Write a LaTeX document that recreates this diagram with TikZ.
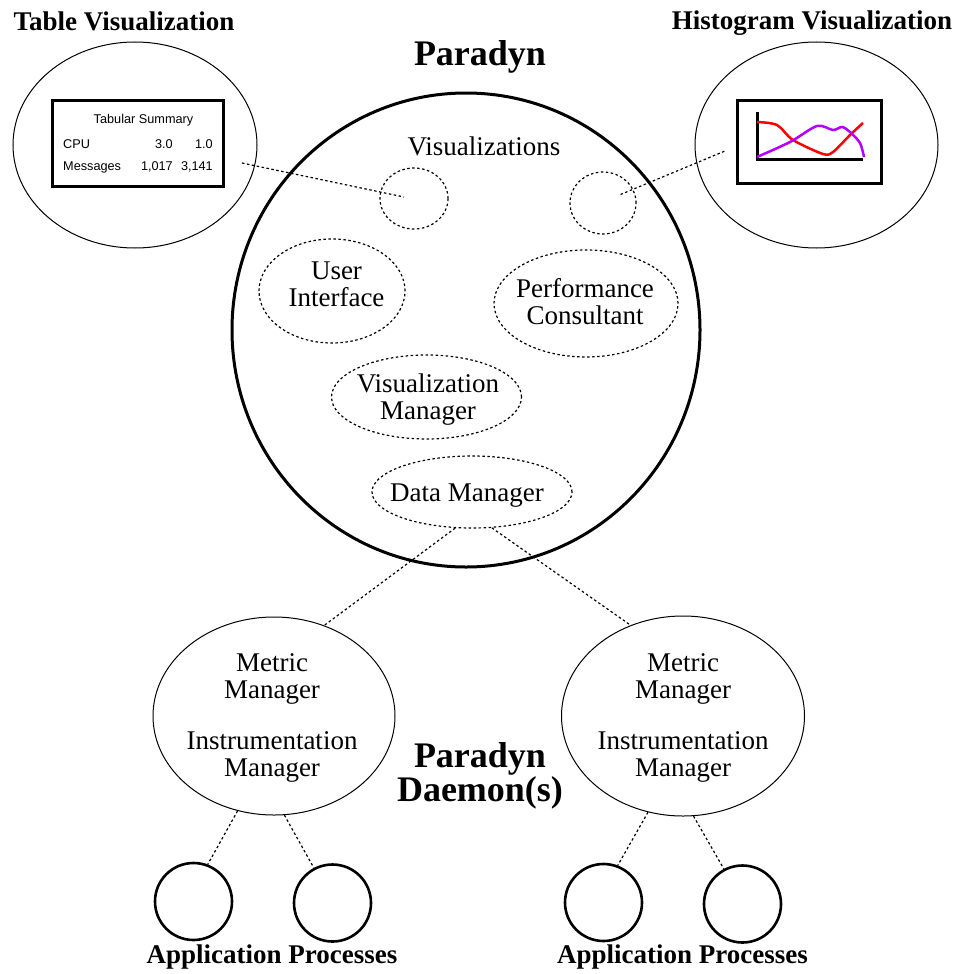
\documentclass[tikz,border=0pt]{standalone}
\usepackage{fontspec}
\setmainfont{Liberation Serif}
\newfontfamily\tabfont{Liberation Sans}
\usetikzlibrary{shapes.geometric}
\definecolor{histviolet}{RGB}{180,0,255}

\begin{document}
\begin{tikzpicture}[x = 1pt, y = -1pt,
	every node/.style = {inner sep = 0pt},
	bubble/.style = {draw, ellipse, line width = 1pt},
	part/.style = {draw, ellipse, line width = 1.2pt, dash pattern = on 2.5pt off 2.5pt},
	proc/.style = {draw, circle, line width = 2.6pt, minimum size = 77pt},
	link/.style = {line width = 1.2pt, dash pattern = on 2.5pt off 2.5pt},
	txt/.style = {align = center, font = \fontsize{27}{27}\selectfont},
	title/.style = {font = \bfseries\fontsize{27}{27}\selectfont},
	bigtitle/.style = {align = center, font = \bfseries\fontsize{36}{34}\selectfont},
	tab/.style = {font = \tabfont\fontsize{12.7}{14}\selectfont}]
	\useasboundingbox (0, 0) rectangle (956, 974);

	%	titles
	\node[title] (tabtitle) at (124, 21.5) {Table Visualization};
	\node[title] (histtitle) at (812, 23.6) {Histogram Visualization};
	\node[bigtitle] (paradyn) at (480, 56.5) {Paradyn};

	%	table visualization
	\node[bubble, minimum width = 244pt, minimum height = 206pt] (tabviz) at (135, 145) {};
	\node[draw, line width = 3pt, minimum width = 171pt, minimum height = 86pt] (tabbox) at (137.5, 143) {};
	\node[tab, anchor = base] (tabhead) at (143.5, 123.3) {Tabular Summary};
	\node[tab, anchor = base west] (cpu) at (63, 148.3) {CPU};
	\node[tab, anchor = base east] (cpua) at (173, 148.3) {3.0};
	\node[tab, anchor = base east] (cpub) at (213, 148.3) {1.0};
	\node[tab, anchor = base west] (msg) at (63, 170) {Messages};
	\node[tab, anchor = base east] (msga) at (173, 170) {1,017};
	\node[tab, anchor = base east] (msgb) at (213, 170) {3,141};

	%	histogram visualization
	\node[bubble, minimum width = 243pt, minimum height = 206pt] (histviz) at (816.5, 145) {};
	\node[draw, line width = 3pt, minimum width = 144pt, minimum height = 83pt] (histbox) at (809, 141.5) {};
	\draw[line width = 3pt] (757, 112) -- (757, 159) -- (863, 159);
	\draw[red, line width = 2.5pt] plot[smooth] coordinates {(757, 122) (777, 125) (793, 140) (823, 154) (833, 152) (850, 135) (863, 123)};
	\draw[histviolet, line width = 2.5pt] plot[smooth] coordinates {(757, 157) (790, 142) (817, 126) (833, 130) (842, 127) (850, 132) (860, 143) (864, 157)};

	%	paradyn
	\node[draw, ellipse, line width = 3pt, minimum width = 468pt, minimum height = 474pt] (main) at (466, 330) {};
	\node[txt] (vistxt) at (484, 146) {Visualizations};
	\node[part, minimum width = 68pt, minimum height = 61pt] (visleft) at (414, 198.5) {};
	\node[part, minimum width = 66pt, minimum height = 62pt] (visright) at (603, 203) {};
	\node[part, minimum width = 146pt, minimum height = 104pt] (ui) at (332, 291) {};
	\node[txt] (uitxt) at (336.5, 284.5) {User\\Interface};
	\node[part, minimum width = 184pt, minimum height = 107pt] (pc) at (586, 303.5) {};
	\node[txt] (pctxt) at (585, 302) {Performance\\Consultant};
	\node[part, minimum width = 190pt, minimum height = 84pt] (vm) at (426.5, 397) {};
	\node[txt] (vmtxt) at (428, 400) {Visualization\\Manager};
	\node[part, minimum width = 200pt, minimum height = 72pt] (dm) at (472, 492) {};
	\node[txt] (dmtxt) at (467, 495.5) {Data Manager};

	%	links to the visualizations
	\coordinate (tabpt) at (242, 163);
	\coordinate (visleftpt) at (404, 197);
	\coordinate (visrightpt) at (620.5, 194.5);
	\coordinate (histpt) at (725, 151);
	\draw[link] (tabpt) -- (visleftpt);
	\draw[link] (visrightpt) -- (histpt);

	%	daemons
	\node[bubble, minimum width = 242pt, minimum height = 198pt] (dleft) at (274, 716) {};
	\node[txt] (dlefttxt) at (272, 717.5) {Metric\\Manager\\[24pt]Instrumentation\\Manager};
	\node[bubble, minimum width = 243pt, minimum height = 200pt] (dright) at (683, 716) {};
	\node[txt] (drighttxt) at (683, 717.5) {Metric\\Manager\\[24pt]Instrumentation\\Manager};
	\node[bigtitle] (daemontxt) at (480, 776) {Paradyn\\Daemon(s)};
	\draw[link] (dm.245) -- (dleft.61);
	\draw[link] (dm.299) -- (dright.120);

	%	application processes
	\node[proc] (appa) at (193.5, 901.5) {};
	\node[proc] (appb) at (332.5, 903) {};
	\node[proc] (appc) at (603.5, 902.5) {};
	\node[proc] (appd) at (742.5, 904) {};
	\draw[link] (dleft.249) -- (appa.69);
	\draw[link] (dleft.276) -- (appb.118);
	\draw[link] (dright.250) -- (appc.69);
	\draw[link] (dright.276) -- (appd.118);
	\node[title] (applefttxt) at (272, 956.6) {Application Processes};
	\node[title] (apprighttxt) at (682.5, 956.6) {Application Processes};
\end{tikzpicture}
\end{document}
